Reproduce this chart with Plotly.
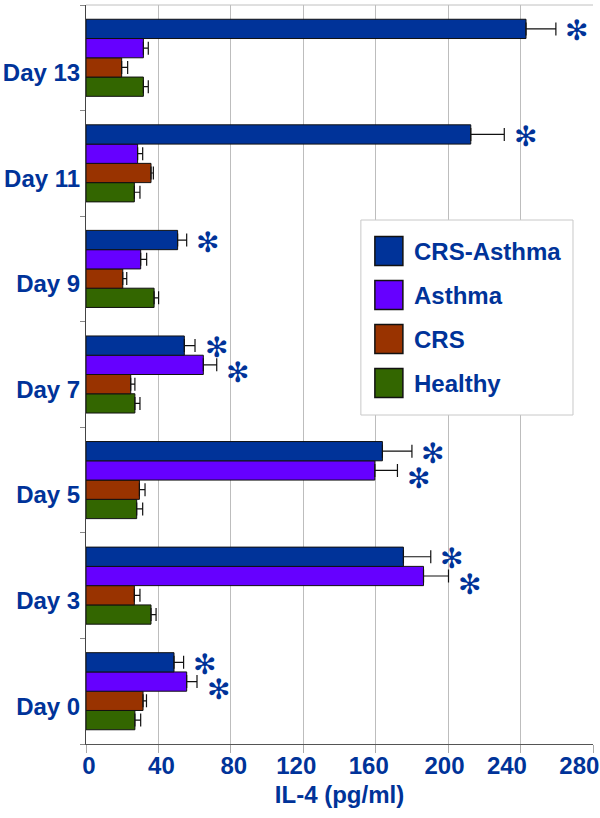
import plotly.graph_objects as go

days = ["Day 0", "Day 3", "Day 5", "Day 7", "Day 9", "Day 11", "Day 13"]

series_names = ["CRS-Asthma", "Asthma", "CRS", "Healthy"]
series_colors = ["#003399", "#6600FF", "#993300", "#336600"]

crs_asthma = [48.6, 175.3, 163.7, 54.3, 50.6, 212.5, 243.0]
crs_asthma_err = [5.3, 15.1, 16.3, 5.9, 5.0, 18.5, 16.5]
asthma = [55.6, 186.4, 159.5, 64.8, 30.2, 28.5, 31.7]
asthma_err = [5.7, 13.8, 12.5, 7.4, 3.3, 2.8, 2.7]
crs = [31.5, 26.7, 29.5, 24.7, 20.3, 35.9, 19.7]
crs_err = [1.9, 3.1, 3.1, 2.3, 2.2, 1.3, 3.3]
healthy = [27.0, 35.9, 28.0, 27.0, 37.6, 26.7, 31.7]
healthy_err = [3.2, 2.8, 3.3, 2.8, 2.5, 3.1, 2.7]

sig_crs_asthma = [True, True, True, True, True, True, True]
sig_asthma = [True, True, True, True, False, False, False]

x_ticks = [0, 40, 80, 120, 160, 200, 240, 280]
x_tick_labels = ["0", "40", "80", "120", "160", "200", "240", "280"]

TXT = "#003399"
FONT = "Liberation Sans, Arial, sans-serif"
STAR_FONT = "DejaVu Sans"

values = [crs_asthma, asthma, crs, healthy]
errors = [crs_asthma_err, asthma_err, crs_err, healthy_err]

fig = go.Figure()
# bottom-to-top order inside each group: Healthy, CRS, Asthma, CRS-Asthma
for idx in [3, 2, 1, 0]:
    fig.add_trace(go.Bar(
        y=days, x=values[idx], orientation="h", name=series_names[idx],
        marker=dict(color=series_colors[idx], line=dict(color="#111111", width=1)),
        error_x=dict(type="data", array=errors[idx], symmetric=False,
                     arrayminus=[0] * len(days), color="#111111",
                     thickness=1.2, width=6.5),
        showlegend=False,
    ))

bargap = 0.27
bw = (1 - bargap) / 4
annotations = []
star_yshift = {3: -2, 2: -8}
for k, (vals, errs, sig) in enumerate([(crs_asthma, crs_asthma_err, sig_crs_asthma),
                                       (asthma, asthma_err, sig_asthma)]):
    slot = 3 - k
    for i, d in enumerate(days):
        if sig[i]:
            yc = i - (1 - bargap) / 2 + (slot + 0.5) * bw
            annotations.append(dict(
                x=vals[i] + errs[i], y=yc, xref="x", yref="y", text="✻",
                showarrow=False, xanchor="center", yanchor="middle",
                xshift=21, yshift=star_yshift[slot],
                font=dict(family=STAR_FONT, size=28, color=TXT),
            ))

# custom legend (large square keys, as in the reference)
plot_l, plot_r, plot_t, plot_b = 86.3, 593.0, 5.0, 744.0
def px(xp):
    return (xp - plot_l) / (plot_r - plot_l)
def py(yp):
    return (plot_b - yp) / (plot_b - plot_t)

shapes = [
    dict(type="rect", xref="paper", yref="paper", x0=px(361), x1=px(573),
         y0=py(415), y1=py(220), line=dict(color="#c8c8c8", width=1),
         fillcolor="white", layer="above"),
    dict(type="line", xref="paper", yref="paper", x0=0, x1=1, y0=1, y1=1,
         line=dict(color="#c0c0c0", width=1)),
]
leg_centers = [251, 295, 339, 383]
for name, color, yc in zip(series_names, series_colors, leg_centers):
    shapes.append(dict(type="rect", xref="paper", yref="paper",
                       x0=px(375), x1=px(403), y0=py(yc + 14.5), y1=py(yc - 14.5),
                       fillcolor=color, line=dict(color="#111111", width=1.5),
                       layer="above"))
    annotations.append(dict(x=px(412), y=py(yc), xref="paper", yref="paper",
                            text=name, showarrow=False, xanchor="left",
                            yanchor="middle",
                            font=dict(family=FONT, size=24, color=TXT, weight="bold")))

# the reference's tick labels drift slightly left of their gridlines
NB = "\u00a0"
pad = [0, 0, 0, 3, 3, 2, 5, 5]
tick_text = [t + NB * n for t, n in zip(x_tick_labels, pad)]

fig.update_layout(
    width=600, height=818,
    margin=dict(l=86, r=7, t=5, b=74),
    paper_bgcolor="white", plot_bgcolor="white",
    barmode="group", bargap=bargap, bargroupgap=0,
    annotations=annotations, shapes=shapes,
    xaxis=dict(range=[0, 280], tickvals=x_ticks, ticktext=tick_text,
               automargin=False, ticklabeloverflow="allow", tickangle=0,
               ticklabelshift=3, ticklabelstandoff=-8,
               showgrid=True, gridcolor="#bdbdbd", gridwidth=1,
               zeroline=False, showline=True, linecolor="#555555", linewidth=1,
               ticks="outside", ticklen=8, tickcolor="#aaaaaa",
               tickfont=dict(family=FONT, size=24, color=TXT, weight="bold"),
               title=dict(text="IL-4 (pg/ml)", standoff=8,
                          font=dict(family=FONT, size=24, color=TXT, weight="bold"))),
    yaxis=dict(type="category", categoryorder="array", categoryarray=days,
               automargin=False,
               showgrid=False, zeroline=False, showline=True,
               linecolor="#444444", linewidth=1,
               ticks="outside", ticklen=5, tickcolor="#888888",
               tickson="boundaries", ticklabelshift=15,
               tickfont=dict(family=FONT, size=24, color=TXT, weight="bold")),
)

fig.write_html("out.html", config={"displayModeBar": False},
               post_script="document.body.style.margin='0';")
